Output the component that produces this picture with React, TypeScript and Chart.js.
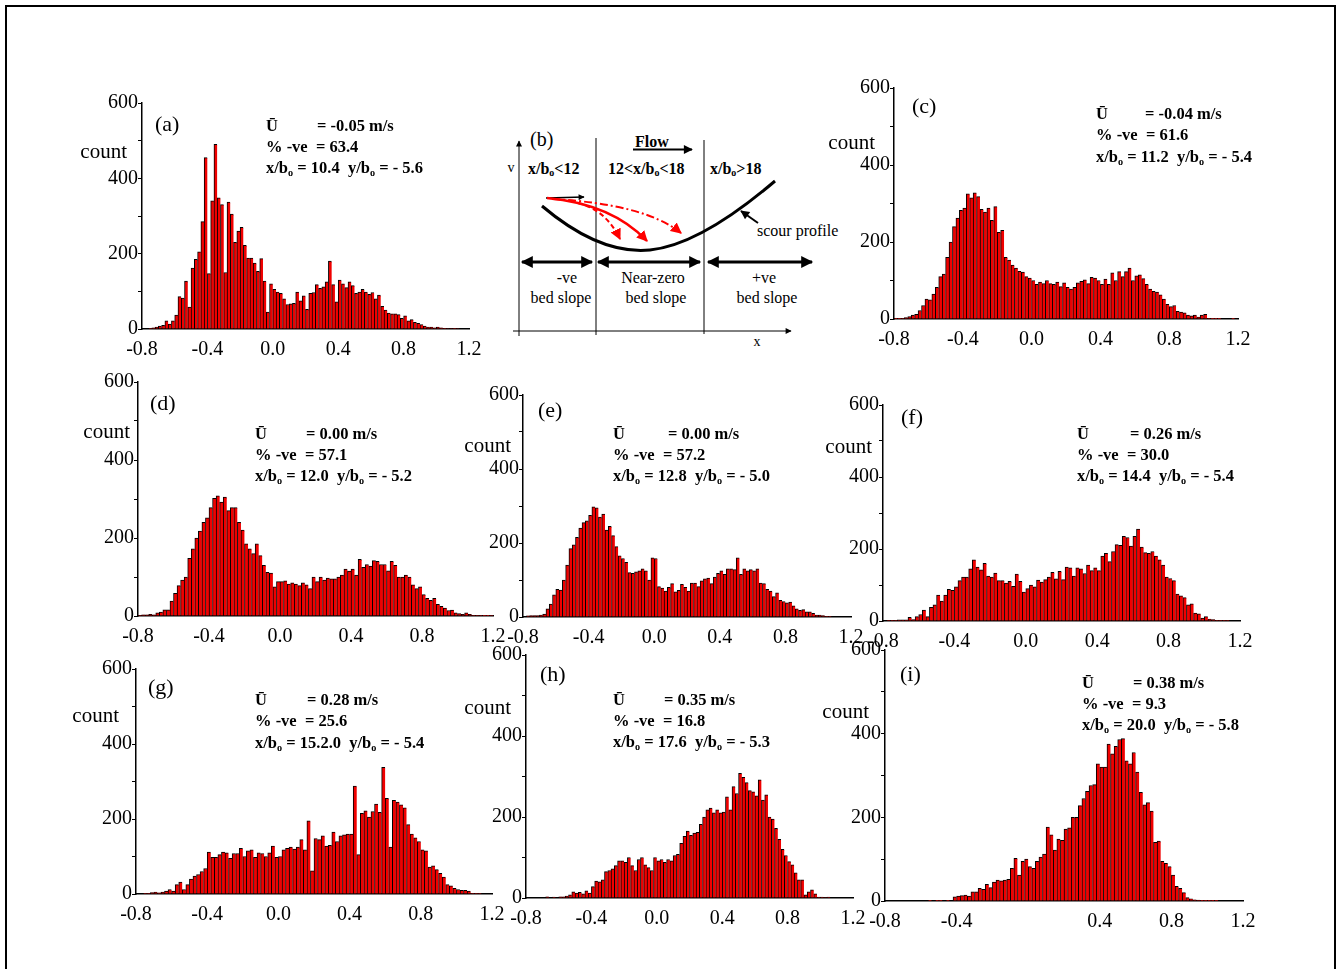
import React, { useEffect, useRef } from 'react';
import { Chart, registerables } from 'chart.js';
Chart.register(...registerables);

// ---------- data ----------
const BIN_START = -0.8;
const BIN_WIDTH = 0.02;
const X_TICKS = [-0.8, -0.4, 0.0, 0.4, 0.8, 1.2];
const Y_TICKS = [0, 100, 200, 300, 400, 500, 600];
const Y_LABELED = [0, 200, 400, 600];

const countsA = [0,0,2,3,5,8,10,22,13,22, 37,86,82,127,58,162,185,205,285,455,
  147,340,490,348,330,150,337,305,230,260, 270,222,188,188,175,153,187,127,45,120,
  105,98,95,80,65,67,68,98,75,88, 52,95,97,118,108,112,125,180,118,72,
  130,120,110,125,115,95,98,105,98,92, 97,80,90,60,50,42,40,40,38,28,
  35,22,25,18,15,12,8,5,5,3, 5,3,2,1,1,2,1,0,0,0];
const countsC = [1,1,2,4,6,10,12,22,35,52, 50,65,82,110,117,160,200,240,262,282,
  288,325,315,328,318,285,278,288,256,292, 225,230,160,153,140,132,124,122,110,106,
  100,90,96,92,100,92,90,96,84,94, 82,78,82,94,98,102,92,108,106,100,
  90,104,90,120,100,123,110,123,132,100, 112,115,105,90,78,72,70,63,52,38,
  32,35,20,18,16,10,8,10,5,10, 12,2,1,1,1,0,0,0,1,0];
const countsD = [2,3,3,4,3,8,10,16,16,38, 58,78,92,100,148,172,200,218,240,252,
  278,302,308,292,305,270,278,278,240,220, 185,172,160,185,155,130,112,110,75,88,
  88,90,82,85,82,78,85,80,70,100, 88,100,92,97,95,95,100,105,120,115,
  120,105,145,125,132,128,142,140,132,132, 116,140,130,100,100,105,100,80,70,75,
  55,45,40,45,30,25,20,14,15,8, 6,4,8,4,2,2,2,1,1,2];
const countsE = [0,3,4,4,4,5,8,22,35,60, 75,73,100,140,185,195,215,240,255,260,
  275,298,295,270,278,235,245,220,190,165, 158,148,120,118,122,125,130,125,100,160,
  158,82,78,70,80,90,68,72,88,80, 70,92,92,82,98,103,105,90,108,118,
  125,115,130,130,128,160,115,130,125,128, 125,130,92,90,75,70,55,65,45,42,
  38,40,30,22,18,20,14,14,10,5, 5,4,2,1,0,0,0,0,0,0];
const countsF = [0,2,1,2,3,3,3,10,4,12, 18,30,12,38,45,72,55,72,88,85,
  95,112,122,122,145,170,150,142,160,125, 122,133,112,112,105,110,96,130,110,80,
  90,100,95,114,108,115,122,135,117,138, 115,150,148,125,148,145,132,155,140,148,
  140,180,188,165,193,212,210,235,232,208, 235,255,205,190,188,193,180,170,155,122,
  118,112,75,70,65,45,48,22,20,8, 12,5,4,2,1,1,1,0,0,0];
const countsG = [0,0,1,2,4,5,3,5,8,12, 8,25,32,12,25,40,48,52,60,68,
  112,98,98,105,112,110,95,108,108,122, 100,115,118,98,110,108,100,110,128,98,
  100,118,122,125,120,125,145,118,195,62, 148,145,155,128,130,165,140,155,158,160,
  160,288,105,215,222,205,220,240,218,338, 255,125,250,245,238,230,185,160,150,140,
  118,115,72,75,65,55,45,25,22,15, 12,10,10,8,2,1,1,0,0,0];
const countsH = [0,0,0,0,0,0,3,0,2,0, 3,3,5,8,15,12,14,10,18,12,
  28,42,40,45,65,68,72,80,92,92, 88,100,80,68,95,100,82,75,68,100,
  92,95,88,95,92,105,108,135,152,165, 155,160,162,182,200,218,222,210,218,210,
  212,250,218,275,258,308,298,285,265,262, 252,292,242,255,200,195,172,145,120,105,
  90,82,62,45,45,8,15,20,10,2, 2,1,2,0,0,0,0,0,0,0];
const countsI = [0,0,0,0,0,0,0,0,0,0, 0,0,1,0,1,1,0,1,0,10,
  12,13,14,12,22,22,30,28,40,32, 45,50,48,50,52,78,102,62,95,100,
  82,78,95,105,112,177,158,122,148,145, 172,175,200,200,228,245,262,276,278,328,
  320,320,375,352,370,386,388,335,328,355, 308,260,230,235,215,140,143,95,90,82,
  62,35,30,20,8,5,3,2,1,1, 1,1,1,0,0,0,0,0,0,0];

const PANEL_LETTERS = ['(a)', '(c)', '(d)', '(e)', '(f)', '(g)', '(h)', '(i)'];
const U_MEAN = ['-0.05', '-0.04', '0.00', '0.00', '0.26', '0.28', '0.35', '0.38'];
const PCT_NEG = ['63.4', '61.6', '57.1', '57.2', '30.0', '25.6', '16.8', '9.3'];
const X_BO = ['10.4', '11.2', '12.0', '12.8', '14.4', '15.2.0', '17.6', '20.0'];
const Y_BO = ['5.6', '5.4', '5.2', '5.0', '5.4', '5.4', '5.3', '5.8'];
const SERIES = [countsA, countsC, countsD, countsE, countsF, countsG, countsH, countsI];

// ---------- layout (page px) ----------
const LAYOUT = [
  { plot: { l: 142, r: 469, t: 103, b: 329 }, letter: [155, 122], count: [127, 152], stats: [266, 317, 126, 147, 168] },
  { plot: { l: 894, r: 1238, t: 88, b: 319 }, letter: [912, 104], count: [875, 143], stats: [1096, 1145, 114, 135, 157] },
  { plot: { l: 138, r: 493, t: 382, b: 616 }, letter: [150, 401], count: [130, 432], stats: [255, 306, 434, 455, 476] },
  { plot: { l: 523, r: 851, t: 395, b: 617 }, letter: [538, 408], count: [511, 446], stats: [613, 668, 434, 455, 476] },
  { plot: { l: 883, r: 1240, t: 405, b: 621 }, letter: [901, 415], count: [872, 447], stats: [1077, 1130, 434, 455, 476] },
  { plot: { l: 136, r: 492, t: 669, b: 894 }, letter: [148, 685], count: [119, 716], stats: [255, 307, 700, 721, 743] },
  { plot: { l: 526, r: 853, t: 655, b: 898 }, letter: [540, 672], count: [511, 708], stats: [613, 664, 700, 721, 742] },
  { plot: { l: 885, r: 1243, t: 650, b: 901 }, letter: [900, 672], count: [869, 712], stats: [1082, 1133, 683, 704, 725], hideZero: true },
];

const SERIF = '"Liberation Serif", "Times New Roman", serif';
const YW = 50, PADR = 24, PADT = 14, XH = 38;

function binCenters(n: number): number[] {
  return Array.from({ length: n }, (_, i) => +(BIN_START + BIN_WIDTH * (i + 0.5)).toFixed(4));
}

function fmtX(v: number, hideZero: boolean): string {
  if (Math.abs(v) < 1e-9) return hideZero ? '' : '0.0';
  return v.toFixed(1);
}

function Hist({ counts, plot, hideZero }: { counts: number[]; plot: any; hideZero?: boolean }) {
  const ref = useRef<HTMLCanvasElement>(null);
  const w = plot.r - plot.l + YW + PADR;
  const h = plot.b - plot.t + PADT + XH;
  useEffect(() => {
    const centers = binCenters(counts.length);
    const tickFont = { family: SERIF, size: 20 };
    const chart = new Chart(ref.current as HTMLCanvasElement, {
      type: 'bar',
      data: {
        datasets: [{
          data: centers.map((x, i) => ({ x, y: counts[i] })),
          backgroundColor: '#f00000',
          borderColor: '#000000',
          borderWidth: { left: 1, top: 1, right: 0, bottom: 0 },
          borderSkipped: false,
          barPercentage: 1,
          categoryPercentage: 1,
        } as any],
      },
      options: {
        animation: false,
        responsive: false,
        maintainAspectRatio: false,
        devicePixelRatio: 1,
        layout: { padding: { left: 0, right: PADR, top: PADT, bottom: 0 } },
        plugins: { legend: { display: false }, tooltip: { enabled: false } },
        scales: {
          x: {
            type: 'linear',
            min: -0.8,
            max: 1.2,
            offset: false,
            afterBuildTicks: (s: any) => { s.ticks = X_TICKS.map((v) => ({ value: v })); },
            afterFit: (s: any) => { s.height = XH; },
            grid: { display: false, drawOnChartArea: false, drawTicks: false, offset: false },
            border: { display: true, color: '#000', width: 1.5 },
            ticks: {
              font: tickFont, color: '#000', padding: 9, maxRotation: 0, autoSkip: false,
              callback: (v: any) => fmtX(Number(v), !!hideZero),
            },
          },
          y: {
            type: 'linear',
            min: 0,
            max: 600,
            afterBuildTicks: (s: any) => { s.ticks = Y_TICKS.map((v) => ({ value: v })); },
            afterFit: (s: any) => { s.width = YW; },
            grid: { display: true, drawOnChartArea: false, drawTicks: true, tickLength: 4, color: '#000', tickColor: '#000', lineWidth: 1 },
            border: { display: true, color: '#000', width: 1.5 },
            ticks: {
              font: tickFont, color: '#000', padding: 0, autoSkip: false,
              callback: (v: any) => (Y_LABELED.includes(Number(v)) ? String(v) : ''),
            },
          },
        },
      } as any,
    });
    return () => chart.destroy();
  }, []);
  return (
    <canvas
      ref={ref}
      width={w}
      height={h}
      style={{ position: 'absolute', left: plot.l - YW, top: plot.t - PADT, width: w, height: h }}
    />
  );
}

const subStyle: React.CSSProperties = { fontSize: '0.62em', verticalAlign: '-0.28em', lineHeight: 0 };

function Label({ x, y, size, bold, children, right }: any) {
  const style: React.CSSProperties = {
    position: 'absolute',
    top: y - 0.6 * size,
    fontFamily: SERIF,
    fontSize: size,
    fontWeight: bold ? 'bold' : 'normal',
    lineHeight: `${1.2 * size}px`,
    whiteSpace: 'pre',
    color: '#000',
  };
  if (right) style.right = 1340 - x; else style.left = x;
  return <div style={style}>{children}</div>;
}

function Stats({ idx }: { idx: number }) {
  const [x0, x1, y1, y2, y3] = LAYOUT[idx].stats;
  const fs = 16.5;
  return (
    <>
      <Label x={x0} y={y1} size={fs} bold>Ū</Label>
      <Label x={x1} y={y1} size={fs} bold>{`= ${U_MEAN[idx]} m/s`}</Label>
      <Label x={x0} y={y2} size={fs} bold>{`% -ve  = ${PCT_NEG[idx]}`}</Label>
      <Label x={x0} y={y3} size={fs} bold>
        x/b<span style={subStyle}>o</span>{` = ${X_BO[idx]}  y/b`}<span style={subStyle}>o</span>{` = - ${Y_BO[idx]}`}
      </Label>
    </>
  );
}

function Schematic() {
  const f = SERIF;
  return (
    <svg width={1340} height={969} style={{ position: 'absolute', left: 0, top: 0, pointerEvents: 'none' }}>
      <defs>
        <marker id="ahBig" viewBox="0 0 10 10" refX="9" refY="5" markerWidth="13" markerHeight="12" markerUnits="userSpaceOnUse" orient="auto-start-reverse">
          <path d="M0,0 L10,5 L0,10 z" fill="#000" />
        </marker>
        <marker id="ahMid" viewBox="0 0 10 10" refX="9" refY="5" markerWidth="11" markerHeight="9" markerUnits="userSpaceOnUse" orient="auto-start-reverse">
          <path d="M0,0 L10,5 L0,10 z" fill="#000" />
        </marker>
        <marker id="ahSmall" viewBox="0 0 10 10" refX="9" refY="5" markerWidth="7" markerHeight="6" markerUnits="userSpaceOnUse" orient="auto-start-reverse">
          <path d="M0,0 L10,5 L0,10 z" fill="#000" />
        </marker>
        <marker id="ahRed" viewBox="0 0 10 10" refX="9" refY="5" markerWidth="11" markerHeight="11" markerUnits="userSpaceOnUse" orient="auto">
          <path d="M0,0 L10,5 L0,10 z" fill="#ff0000" />
        </marker>
      </defs>
      {/* axes */}
      <line x1={519} y1={336} x2={519} y2={141} stroke="#000" strokeWidth={1} markerEnd="url(#ahSmall)" />
      <line x1={513} y1={331} x2={791} y2={331} stroke="#000" strokeWidth={1} markerEnd="url(#ahSmall)" />
      <text x={511} y={167} fontFamily={f} fontSize={14} textAnchor="middle" dominantBaseline="central">v</text>
      <text x={757} y={341} fontFamily={f} fontSize={14} textAnchor="middle" dominantBaseline="central">x</text>
      {/* zone dividers */}
      <line x1={596} y1={138} x2={596} y2={335} stroke="#000" strokeWidth={1} />
      <line x1={704} y1={140} x2={704} y2={334} stroke="#000" strokeWidth={1} />
      <text x={530} y={139} fontFamily={f} fontSize={20} dominantBaseline="central">(b)</text>
      {/* flow */}
      <text x={635} y={141} fontFamily={f} fontSize={16} fontWeight="bold" dominantBaseline="central">Flow</text>
      <line x1={633} y1={149.5} x2={692} y2={149.5} stroke="#000" strokeWidth={2} markerEnd="url(#ahMid)" />
      {/* zone labels */}
      <text x={528} y={168} fontFamily={f} fontSize={16} fontWeight="bold" dominantBaseline="central">
        x/b<tspan fontSize={10} dy={4}>o</tspan><tspan dy={-4}>&lt;12</tspan>
      </text>
      <text x={608} y={168} fontFamily={f} fontSize={16} fontWeight="bold" dominantBaseline="central">
        12&lt;x/b<tspan fontSize={10} dy={4}>o</tspan><tspan dy={-4}>&lt;18</tspan>
      </text>
      <text x={710} y={168} fontFamily={f} fontSize={16} fontWeight="bold" dominantBaseline="central">
        x/b<tspan fontSize={10} dy={4}>o</tspan><tspan dy={-4}>&gt;18</tspan>
      </text>
      {/* scour profile */}
      <path d="M542,206 Q600,255 650,250 T775,181" fill="none" stroke="#000" strokeWidth={3} />
      <line x1={758} y1={223} x2={741} y2={211} stroke="#000" strokeWidth={2} markerEnd="url(#ahMid)" />
      <text x={757} y={230} fontFamily={f} fontSize={16} dominantBaseline="central">scour profile</text>
      {/* flow arrows */}
      <line x1={546} y1={198} x2={584} y2={197} stroke="#000" strokeWidth={1.5} markerEnd="url(#ahSmall)" />
      <path d="M547,198 Q612,204 647,241" fill="none" stroke="#ff0000" strokeWidth={2.5} markerEnd="url(#ahRed)" />
      <path d="M552,199 Q645,204 681,233" fill="none" stroke="#ff0000" strokeWidth={2} strokeDasharray="8,3,2,3" markerEnd="url(#ahRed)" />
      <path d="M578,203 Q606,210 620,239" fill="none" stroke="#ff0000" strokeWidth={2} strokeDasharray="5,3" markerEnd="url(#ahRed)" />
      {/* slope arrows */}
      <line x1={522} y1={262} x2={592} y2={262} stroke="#000" strokeWidth={3} markerStart="url(#ahBig)" markerEnd="url(#ahBig)" />
      <line x1={598} y1={262} x2={700} y2={262} stroke="#000" strokeWidth={3} markerStart="url(#ahBig)" markerEnd="url(#ahBig)" />
      <line x1={708} y1={262} x2={812} y2={262} stroke="#000" strokeWidth={3} markerStart="url(#ahBig)" markerEnd="url(#ahBig)" />
      <text x={567} y={277} fontFamily={f} fontSize={16} textAnchor="middle" dominantBaseline="central">-ve</text>
      <text x={561} y={297} fontFamily={f} fontSize={16} textAnchor="middle" dominantBaseline="central">bed slope</text>
      <text x={653} y={277} fontFamily={f} fontSize={16} textAnchor="middle" dominantBaseline="central">Near-zero</text>
      <text x={656} y={297} fontFamily={f} fontSize={16} textAnchor="middle" dominantBaseline="central">bed slope</text>
      <text x={764} y={277} fontFamily={f} fontSize={16} textAnchor="middle" dominantBaseline="central">+ve</text>
      <text x={767} y={297} fontFamily={f} fontSize={16} textAnchor="middle" dominantBaseline="central">bed slope</text>
    </svg>
  );
}

export default function App() {
  return (
    <div style={{ position: 'absolute', left: 0, top: 0, width: 1340, height: 969, background: '#fff', overflow: 'hidden' }}>
      <div style={{ position: 'absolute', left: 5, top: 5, width: 1327, height: 980, borderLeft: '2px solid #000', borderTop: '2px solid #000', borderRight: '2px solid #000' }} />
      <Schematic />
      {LAYOUT.map((p, i) => (
        <React.Fragment key={i}>
          <Hist counts={SERIES[i]} plot={p.plot} hideZero={!!(p as any).hideZero} />
          <Label x={p.letter[0]} y={p.letter[1] + 2} size={22}>{PANEL_LETTERS[i]}</Label>
          <Label x={p.count[0]} y={p.count[1]} size={21} right>count</Label>
          <Stats idx={i} />
        </React.Fragment>
      ))}
    </div>
  );
}
